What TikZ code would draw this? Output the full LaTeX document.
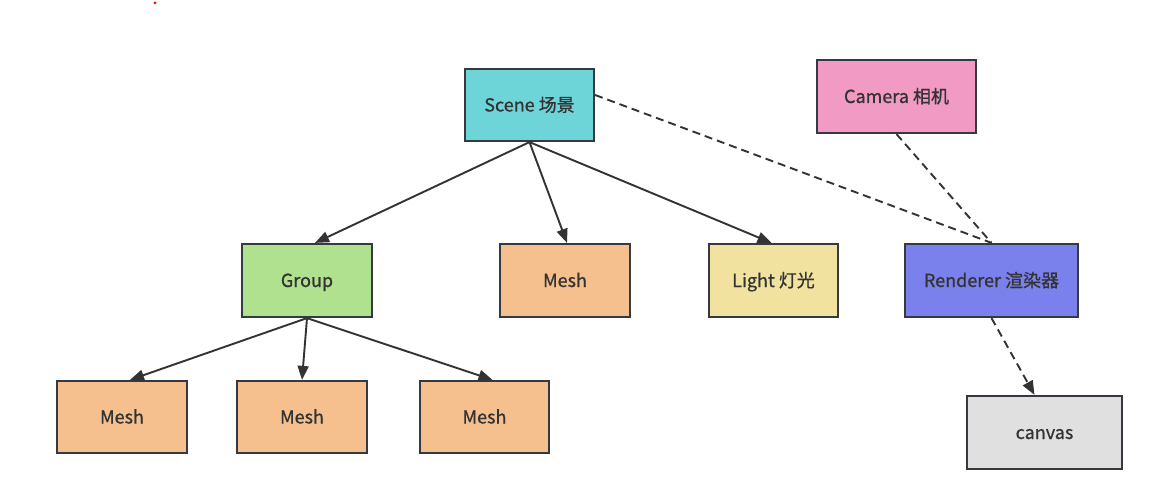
\documentclass[tikz,border=0pt]{standalone}
\usepackage{fontspec}
\setmainfont{Noto Sans CJK SC}[FakeBold=0.8]
\usetikzlibrary{arrows.meta}
\definecolor{linec}{HTML}{333333}
\definecolor{borderc}{HTML}{343A40}
\definecolor{scenec}{HTML}{6DD5D8}
\definecolor{camerac}{HTML}{F19AC4}
\definecolor{groupc}{HTML}{B0E18E}
\definecolor{meshc}{HTML}{F5C08E}
\definecolor{lightc}{HTML}{F2E29F}
\definecolor{rendc}{HTML}{7A80EC}
\definecolor{canvc}{HTML}{E0E0E0}
\definecolor{txtc}{HTML}{333333}
\tikzset{
  box/.style={draw=borderc, line width=2.2pt, minimum height=72pt, inner sep=0pt,
    text height=13pt, text depth=0pt,
    text=txtc, font=\fontsize{18}{21}\selectfont},
  conn/.style={draw=linec, line width=1.9pt, -{Triangle[length=14pt,width=11pt]}},
  dconn/.style={draw=linec, line width=1.9pt, dash pattern=on 8pt off 5pt},
}
\begin{document}
\begin{tikzpicture}[x=1pt,y=-1pt]
\useasboundingbox[fill=white] (0,0) rectangle (1158,481);
\fill[red] (155,3) circle (1.5pt);
\node[box, fill=scenec, minimum width=129pt] (scene) at (529.5,105) {Scene 场景};
\node[box, fill=camerac, minimum width=159pt, minimum height=73pt] (camera) at (896.5,96.5) {Camera 相机};
\node[box, fill=groupc, minimum width=130pt, minimum height=73pt] (group) at (307,280.5) {Group};
\node[box, fill=meshc, minimum width=130pt, minimum height=73pt] (mesh) at (565,280.5) {Mesh};
\node[box, fill=lightc, minimum width=129pt, minimum height=73pt] (light) at (773.5,280.5) {Light 灯光};
\node[box, fill=rendc, minimum width=173pt, minimum height=73pt] (rend) at (991.5,280.5) {Renderer 渲染器};
\node[box, fill=meshc, minimum width=130pt] (mesha) at (122,417) {Mesh};
\node[box, fill=meshc, minimum width=130pt] (meshb) at (302,417) {Mesh};
\node[box, fill=meshc, minimum width=129pt] (meshc) at (484.5,417) {Mesh};
\node[box, fill=canvc, minimum width=155pt, minimum height=73pt] (canvas) at (1044.5,432.5) {canvas};

\draw[conn] (scene.south) -- ([xshift=8pt]group.north);
\draw[conn] (scene.south) -- ([xshift=2pt]mesh.north);
\draw[conn] (scene.south) -- ([xshift=-2pt]light.north);
\draw[dconn] ([yshift=10pt]scene.east) -- (rend.north);
\draw[dconn] (camera.south) -- (rend.north);
\draw[dconn, -{Triangle[length=14pt,width=11pt]}] (rend.south) -- ([xshift=-10pt]canvas.north);
\draw[conn] (group.south) -- ([xshift=8pt]mesha.north);
\draw[conn] (group.south) -- (meshb.north);
\draw[conn] (group.south) -- ([xshift=8pt]meshc.north);
\end{tikzpicture}
\end{document}
